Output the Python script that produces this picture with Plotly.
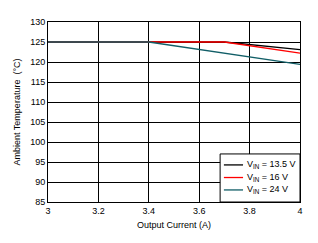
import plotly.graph_objects as go

x_135 = [3.0, 3.7, 4.0]
y_135 = [125, 125, 123.1]
x_16 = [3.0, 3.7, 4.0]
y_16 = [125, 125, 122.2]
x_24 = [3.0, 3.4, 4.0]
y_24 = [125, 125, 119.4]

names = ["V<sub>IN</sub> = 13.5 V", "V<sub>IN</sub> = 16 V", "V<sub>IN</sub> = 24 V"]
colors = ["#000000", "#ff0000", "#115e67"]

fig = go.Figure()
for xs, ys, n, c in zip([x_135, x_16, x_24], [y_135, y_16, y_24], names, colors):
    fig.add_trace(go.Scatter(x=xs, y=ys, mode="lines", name=n, showlegend=False,
                             line=dict(color=c, width=1.3)))

# custom compact legend (paper coordinates)
shapes = [dict(type="rect", xref="paper", yref="paper", x0=0.683, x1=1.0,
               y0=0.0, y1=0.267, line=dict(color="#000", width=1),
               fillcolor="white", layer="above")]
annotations = []
row_y = [0.206, 0.136, 0.067]
for n, c, ry in zip(names, colors, row_y):
    shapes.append(dict(type="line", xref="paper", yref="paper", x0=0.698, x1=0.774,
                       y0=ry, y1=ry, line=dict(color=c, width=1.3), layer="above"))
    annotations.append(dict(text=n, xref="paper", yref="paper", x=0.782, y=ry,
                            xanchor="left", yanchor="middle", showarrow=False,
                            font=dict(size=9, color="#000")))

font = dict(family="Liberation Sans, Arial, sans-serif", size=9, color="#000")
fig.update_layout(
    width=318, height=243,
    margin=dict(l=48, r=18, t=22, b=41),
    paper_bgcolor="white", plot_bgcolor="white",
    font=font,
    showlegend=False,
    shapes=shapes,
    annotations=annotations,
    xaxis=dict(range=[3, 4], tickvals=[3, 3.2, 3.4, 3.6, 3.8, 4],
               ticktext=["3", "3.2", "3.4", "3.6", "3.8", "4"],
               showgrid=True, gridcolor="#000",
               gridwidth=1, showline=True, linecolor="#000", mirror=True,
               zeroline=False, ticks="",
               title=dict(text="Output Current (A)", standoff=6,
                          font=dict(size=9))),
    yaxis=dict(range=[85, 130], dtick=5, showgrid=True, gridcolor="#000",
               gridwidth=1, showline=True, linecolor="#000", mirror=True,
               zeroline=False, ticks="",
               title=dict(text="Ambient Temperature  (°C)", standoff=8,
                          font=dict(size=9))),
)
fig.write_html("out.html")
